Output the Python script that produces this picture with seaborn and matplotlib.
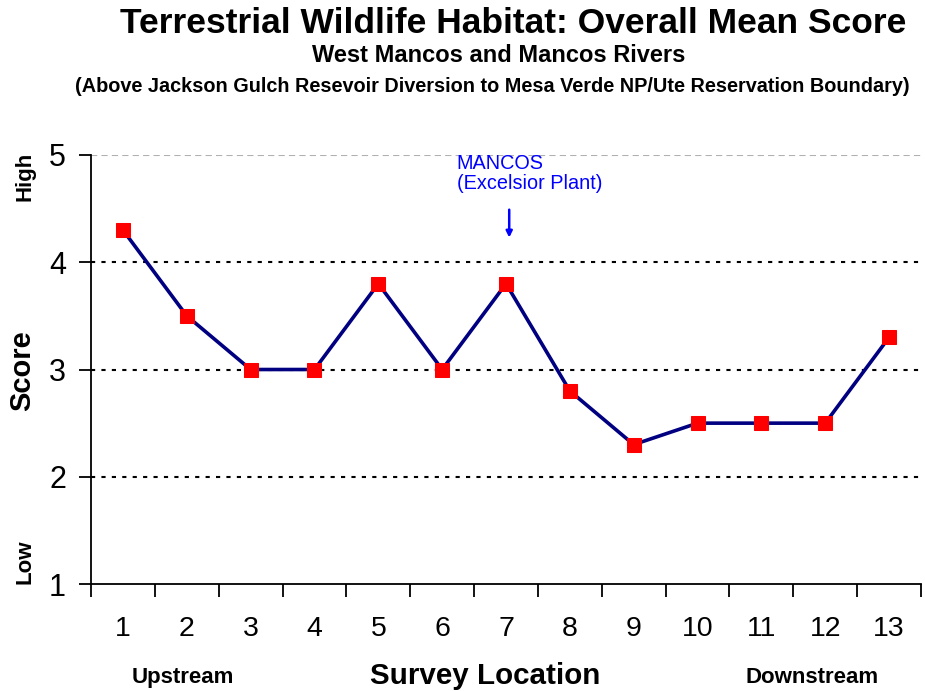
import matplotlib
matplotlib.use("Agg")
import matplotlib.pyplot as plt
import seaborn as sns
import pandas as pd

# Survey locations along the river and their overall mean habitat scores
locations = [1, 2, 3, 4, 5, 6, 7, 8, 9, 10, 11, 12, 13]
scores = [4.3, 3.5, 3.0, 3.0, 3.8, 3.0, 3.8, 2.8, 2.3, 2.5, 2.5, 2.5, 3.3]
y_ticks = [1, 2, 3, 4, 5]

df = pd.DataFrame({"location": locations, "score": scores})

sns.set_theme(style="white")
plt.rcParams["font.family"] = ["Liberation Sans", "DejaVu Sans"]
plt.rcParams["text.color"] = "black"
plt.rcParams["axes.labelcolor"] = "black"
plt.rcParams["xtick.color"] = "black"
plt.rcParams["ytick.color"] = "black"

fig = plt.figure(figsize=(9.25, 6.91), dpi=100)
ax = fig.add_axes([0.0984, 0.1548, 0.8973, 0.6209])

# reference lines
for y in [2, 3, 4]:
    ax.axhline(y, color="black", linestyle=(0, (2, 3)), linewidth=1.5, zorder=1)
ax.axhline(5, color="#b0b0b0", linestyle=(0, (3, 2)), linewidth=1.5, zorder=1)

sns.lineplot(data=df, x="location", y="score", ax=ax, color="#000080",
             linewidth=2.6, marker="s", markersize=10,
             markerfacecolor="#ff0000", markeredgecolor="#ff0000", zorder=3)

ax.set_xlim(0.5, 13.5)
ax.set_ylim(1, 5)

# tick marks at category boundaries, labels centred on each location
ax.set_xticks([i + 0.5 for i in range(0, 14)])
ax.set_xticklabels([])
ax.set_xticks(locations, minor=True)
ax.set_xticklabels([str(v) for v in locations], minor=True, fontsize=20.5)
ax.tick_params(axis="x", which="major", direction="out", length=9, width=1.3,
               color="black", bottom=True)
ax.tick_params(axis="x", which="minor", length=0, pad=23)

ax.set_yticks(y_ticks)
ax.set_yticklabels([str(v) for v in y_ticks], fontsize=22)
ax.tick_params(axis="y", direction="out", length=9, width=1.3, color="black",
               left=True, pad=9)

for side in ["top", "right"]:
    ax.spines[side].set_visible(False)
for side in ["left", "bottom"]:
    ax.spines[side].set_color("black")
    ax.spines[side].set_linewidth(1.3)

ax.set_xlabel("")
ax.set_ylabel("")

# titles
fig.text(0.555, 0.966, "Terrestrial Wildlife Habitat: Overall Mean Score",
         ha="center", va="center", fontsize=25.5, fontweight="bold")
fig.text(0.539, 0.920, "West Mancos and Mancos Rivers",
         ha="center", va="center", fontsize=17, fontweight="bold")
fig.text(0.532, 0.875,
         "(Above Jackson Gulch Resevoir Diversion to Mesa Verde NP/Ute Reservation Boundary)",
         ha="center", va="center", fontsize=14.3, fontweight="bold")

# axis titles and direction hints
fig.text(0.024, 0.463, "Score", rotation=90, ha="center", va="center",
         fontsize=21, fontweight="bold")
fig.text(0.027, 0.745, "High", rotation=90, ha="center", va="center",
         fontsize=16, fontweight="bold")
fig.text(0.027, 0.187, "Low", rotation=90, ha="center", va="center",
         fontsize=16, fontweight="bold")
fig.text(0.524, 0.022, "Survey Location", ha="center", va="center",
         fontsize=21.3, fontweight="bold")
fig.text(0.198, 0.019, "Upstream", ha="center", va="center",
         fontsize=16, fontweight="bold")
fig.text(0.878, 0.019, "Downstream", ha="center", va="center",
         fontsize=16, fontweight="bold")

# site annotation
ax.annotate("", xy=(7.05, 4.23), xytext=(7.05, 4.49),
            arrowprops=dict(arrowstyle="-|>", color="#0000ff", lw=1.8,
                            mutation_scale=9, shrinkA=0, shrinkB=0))
ax.text(6.23, 5.005, "MANCOS\n(Excelsior Plant)", color="#0000ff", fontsize=14.3,
        ha="left", va="top", linespacing=1.05)

fig.savefig("out.png", dpi=100)
